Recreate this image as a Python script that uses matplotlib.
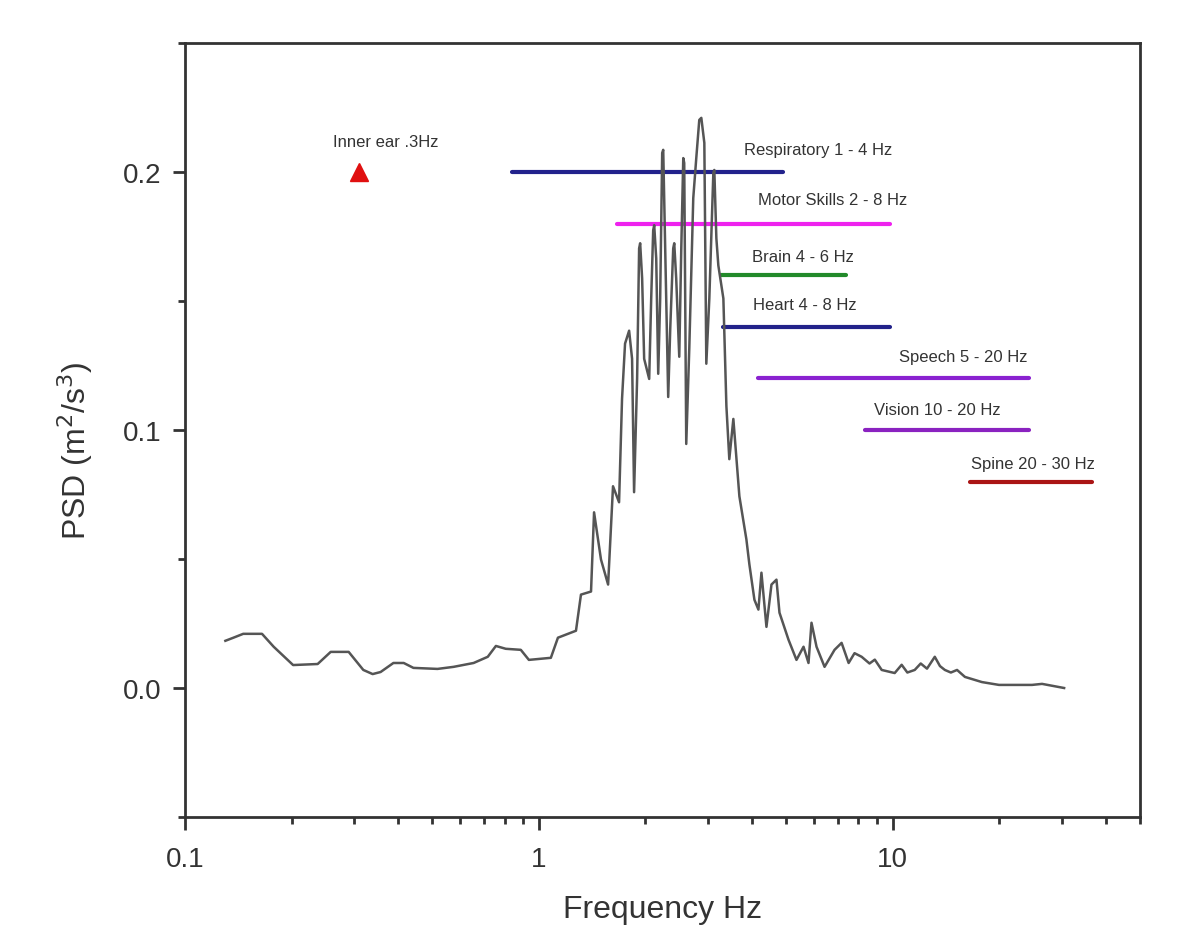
import matplotlib
matplotlib.use("Agg")
import matplotlib.pyplot as plt
from matplotlib.ticker import FixedLocator, LogLocator, NullFormatter

plt.rcParams['font.family'] = ['Liberation Sans', 'DejaVu Sans']

# PSD trace (frequency in Hz, PSD in m^2/s^3)
freq = [0.130, 0.137, 0.146, 0.165, 0.178, 0.202, 0.237, 0.258, 0.290, 0.319,
        0.339, 0.357, 0.388, 0.415, 0.442, 0.517, 0.574, 0.654, 0.717, 0.756,
        0.806, 0.889, 0.937, 1.081, 1.132, 1.273, 1.315, 1.404, 1.432, 1.498,
        1.569, 1.620, 1.685, 1.718, 1.752, 1.799, 1.834, 1.858, 1.895, 1.920,
        1.933, 1.958, 1.984, 2.050, 2.077, 2.104, 2.118, 2.146, 2.174, 2.202,
        2.231, 2.246, 2.275, 2.320, 2.351, 2.397, 2.413, 2.444, 2.493, 2.526,
        2.559, 2.575, 2.609, 2.661, 2.731, 2.785, 2.840, 2.878, 2.935, 2.973,
        3.032, 3.112, 3.132, 3.174, 3.215, 3.322, 3.388, 3.453, 3.545, 3.687,
        3.859, 3.935, 4.066, 4.173, 4.256, 4.397, 4.543, 4.693, 4.786, 5.076,
        5.346, 5.597, 5.781, 5.895, 6.091, 6.418, 6.849, 7.170, 7.506, 7.80,
        8.170, 8.60, 8.90, 9.308, 10.13, 10.6, 11.0, 11.54, 12.0, 12.5,
        13.15, 13.6, 14.04, 14.6, 15.2, 16.00, 17.87, 19.97, 24.76, 26.43,
        30.51]
psd = [0.0183, 0.0195, 0.0210, 0.0210, 0.0160, 0.0089, 0.0093, 0.0140, 0.0140, 0.0070,
       0.0054, 0.0062, 0.0097, 0.0097, 0.0078, 0.0074, 0.0082, 0.0097, 0.0121, 0.0163,
       0.0152, 0.0148, 0.0109, 0.0117, 0.0195, 0.0222, 0.0362, 0.0374, 0.0681, 0.0498,
       0.0401, 0.0782, 0.0720, 0.1121, 0.1335, 0.1385, 0.1276, 0.0759, 0.1198, 0.1704,
       0.1724, 0.1588, 0.1276, 0.1198, 0.1510, 0.1774, 0.1794, 0.1665, 0.1218, 0.1510,
       0.2074, 0.2086, 0.1704, 0.1128, 0.1393, 0.1704, 0.1724, 0.1588, 0.1284, 0.1704,
       0.2054, 0.2035, 0.0946, 0.1315, 0.1899, 0.2054, 0.2202, 0.2210, 0.2113, 0.1257,
       0.1510, 0.1996, 0.2008, 0.1743, 0.1638, 0.1510, 0.1093, 0.0887, 0.1043, 0.0743,
       0.0576, 0.0479, 0.0342, 0.0304, 0.0447, 0.0237, 0.0401, 0.0420, 0.0292, 0.0187,
       0.0109, 0.0160, 0.0097, 0.0253, 0.0160, 0.0082, 0.0148, 0.0175, 0.0097, 0.0135,
       0.0121, 0.0095, 0.0110, 0.0070, 0.0058, 0.0090, 0.0060, 0.0070, 0.0095, 0.0075,
       0.0121, 0.0085, 0.0070, 0.0060, 0.0070, 0.0043, 0.0023, 0.0012, 0.0012, 0.0016,
       0.0000]

# body resonance bands as drawn
band_names = ['Respiratory 1 - 4 Hz', 'Motor Skills 2 - 8 Hz', 'Brain 4 - 6 Hz',
              'Heart 4 - 8 Hz', 'Speech 5 - 20 Hz', 'Vision 10 - 20 Hz',
              'Spine 20 - 30 Hz']
band_lo = [0.84, 1.66, 3.28, 3.32, 4.17, 8.33, 16.5]
band_hi = [4.9, 9.8, 7.4, 9.8, 24.3, 24.3, 36.6]
band_level = [0.20, 0.18, 0.16, 0.14, 0.12, 0.10, 0.08]
band_colors = ['#22228c', '#ee22ee', '#228a2a', '#22228a', '#8a22d0', '#8a22c0', '#aa1515']

inner_ear_freq = 0.31
inner_ear_level = 0.20

# where the band captions sit (left edge frequency, height)
label_x = [3.81, 4.17, 3.99, 4.04, 10.4, 8.84, 16.6]
label_y = [0.2086, 0.1895, 0.1673, 0.1486, 0.1284, 0.1078, 0.0872]

fig = plt.figure(figsize=(11.97, 9.37), dpi=100)
ax = fig.add_axes([0.1546, 0.127, 0.7978, 0.826])

ax.plot(freq, psd, color='#555555', lw=1.8, zorder=3)

for name, lo, hi, lev, col, tx, ty in zip(band_names, band_lo, band_hi, band_level,
                                          band_colors, label_x, label_y):
    ax.plot([lo, hi], [lev, lev], color=col, lw=3, solid_capstyle='round', zorder=2)
    ax.text(tx, ty, name, fontsize=12, color='#333333', ha='left', va='center')

ax.plot([inner_ear_freq], [inner_ear_level], marker='^', color='#e01010',
        markersize=13, linestyle='none')
ax.text(0.3687, 0.2117, 'Inner ear .3Hz', fontsize=12, color='#333333',
        ha='center', va='center')

ax.set_xscale('log')
ax.set_xlim(0.1, 50)
ax.set_ylim(-0.05, 0.25)
ax.set_xticks([0.1, 1, 10])
ax.set_xticklabels(['0.1', '1', '10'])
ax.xaxis.set_minor_locator(LogLocator(base=10, subs=range(2, 10)))
ax.xaxis.set_minor_formatter(NullFormatter())
ax.set_yticks([0.0, 0.1, 0.2])
ax.set_yticklabels(['0.0', '0.1', '0.2'])
ax.yaxis.set_minor_locator(FixedLocator([-0.05, 0.05, 0.15, 0.25]))

for s in ax.spines.values():
    s.set_linewidth(2.0)
    s.set_color('#333333')
ax.tick_params(which='major', direction='out', length=9, width=2, color='#333333',
               labelsize=20, labelcolor='#333333', pad=8)
ax.tick_params(axis='x', which='major', pad=12)
ax.tick_params(which='minor', direction='out', length=5, width=2, color='#333333')

ax.set_xlabel('Frequency Hz', fontsize=23, color='#333333', labelpad=16)
ax.set_ylabel('PSD (m$^2$/s$^3$)', fontsize=23, color='#333333')
ax.yaxis.set_label_coords(-0.094, 0.475)

fig.savefig('out.png', dpi=100, facecolor='white')
